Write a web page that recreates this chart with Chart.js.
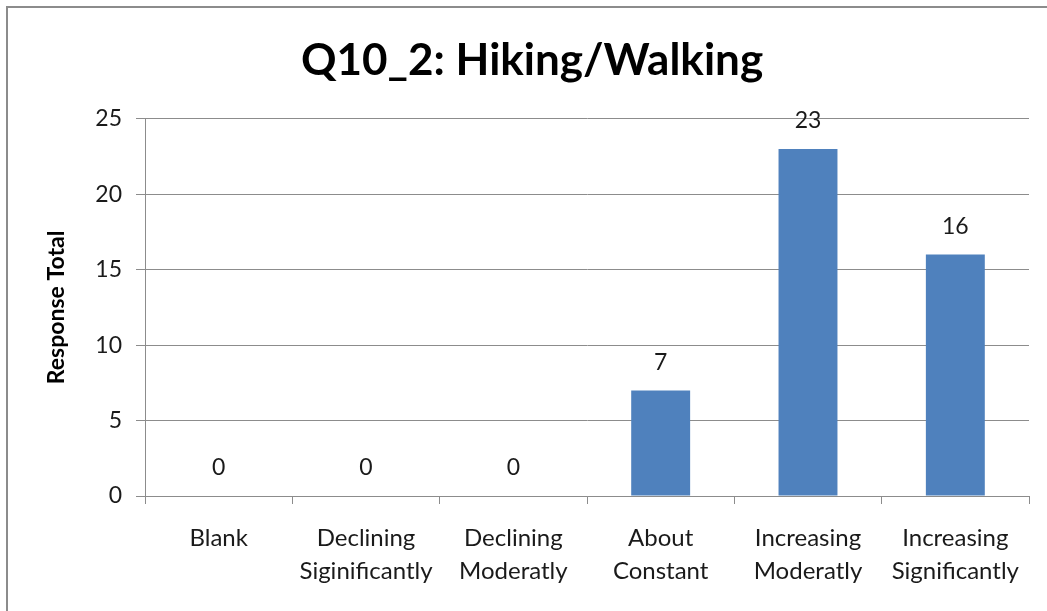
<!DOCTYPE html>
<html>
<head>
<meta charset="utf-8">
<script src="https://cdn.jsdelivr.net/npm/chart.js@4"></script>
<style>
    body { margin: 0; background: #fff; }
    #wrap { position: relative; width: 1047px; height: 611px; }
    #frame { position: absolute; left: 6px; top: 6px; right: 0; bottom: 0; border-left: 2px solid #8c8c8c; border-top: 2px solid #8c8c8c; }
    canvas { position: absolute; left: 0; top: 0; }
</style>
</head>
<body>
<div id="wrap">
    <div id="frame"></div>
    <canvas id="bar" width="1047" height="611"></canvas>
</div>
<script>
var categories = [
    ['Blank'],
    ['Declining', 'Siginificantly'],
    ['Declining', 'Moderatly'],
    ['About', 'Constant'],
    ['Increasing', 'Moderatly'],
    ['Increasing', 'Significantly']
];
var responses = [0, 0, 0, 7, 23, 16];
var yTicks = [0, 5, 10, 15, 20, 25];

var fontName = 'Lato, "Open Sans", sans-serif';

// values above the bars
var barLabels = {
    id: 'barLabels',
    afterDatasetsDraw: function (chart) {
        var ctx = chart.ctx;
        var meta = chart.getDatasetMeta(0);
        ctx.save();
        ctx.font = '23px ' + fontName;
        ctx.fillStyle = '#1a1a1a';
        ctx.textAlign = 'center';
        ctx.textBaseline = 'middle';
        meta.data.forEach(function (bar, i) {
            ctx.fillText(responses[i], bar.x, bar.y - 28);
        });
        ctx.restore();
    }
};

var ctx = document.getElementById('bar');

var barGraph = new Chart(ctx, {
    type: 'bar',
    data: {
        labels: categories,
        datasets: [
            {
                label: 'Response Total',
                backgroundColor: '#4f81bd',
                borderColor: '#4f81bd',
                borderWidth: 0,
                barPercentage: 0.4,
                categoryPercentage: 1,
                data: responses
            }
        ]
    },
    options: {
        responsive: false,
        animation: false,
        layout: { padding: { left: 35, right: 18, top: 0, bottom: 0 } },
        plugins: {
            legend: { display: false },
            tooltip: { enabled: false },
            title: {
                display: true,
                text: 'Q10_2: Hiking/Walking',
                color: '#000',
                font: { family: fontName, size: 44, weight: 'bold' },
                padding: { top: 34, bottom: 32 }
            }
        },
        scales: {
            x: {
                offset: true,
                grid: {
                    offset: true,
                    drawOnChartArea: false,
                    drawTicks: true,
                    tickLength: 8,
                    color: '#8c8c8c'
                },
                border: { color: '#8c8c8c' },
                ticks: {
                    color: '#1a1a1a',
                    font: { family: fontName, size: 24, lineHeight: 1.375 },
                    padding: 18,
                    maxRotation: 0,
                    autoSkip: false
                },
                afterFit: function (scale) { scale.height = 115; }
            },
            y: {
                min: 0,
                max: 25,
                afterBuildTicks: function (scale) {
                    scale.ticks = yTicks.map(function (v) { return { value: v }; });
                },
                grid: {
                    color: '#8c8c8c',
                    tickLength: 9
                },
                border: { color: '#8c8c8c' },
                ticks: {
                    color: '#1a1a1a',
                    font: { family: fontName, size: 23 },
                    padding: 14
                },
                title: {
                    display: true,
                    text: 'Response Total',
                    color: '#000',
                    font: { family: fontName, size: 23, weight: 'bold' },
                    padding: { top: 8, bottom: 0 }
                },
                afterFit: function (scale) { scale.width = 110; }
            }
        }
    },
    plugins: [barLabels]
});
</script>
</body>
</html>
